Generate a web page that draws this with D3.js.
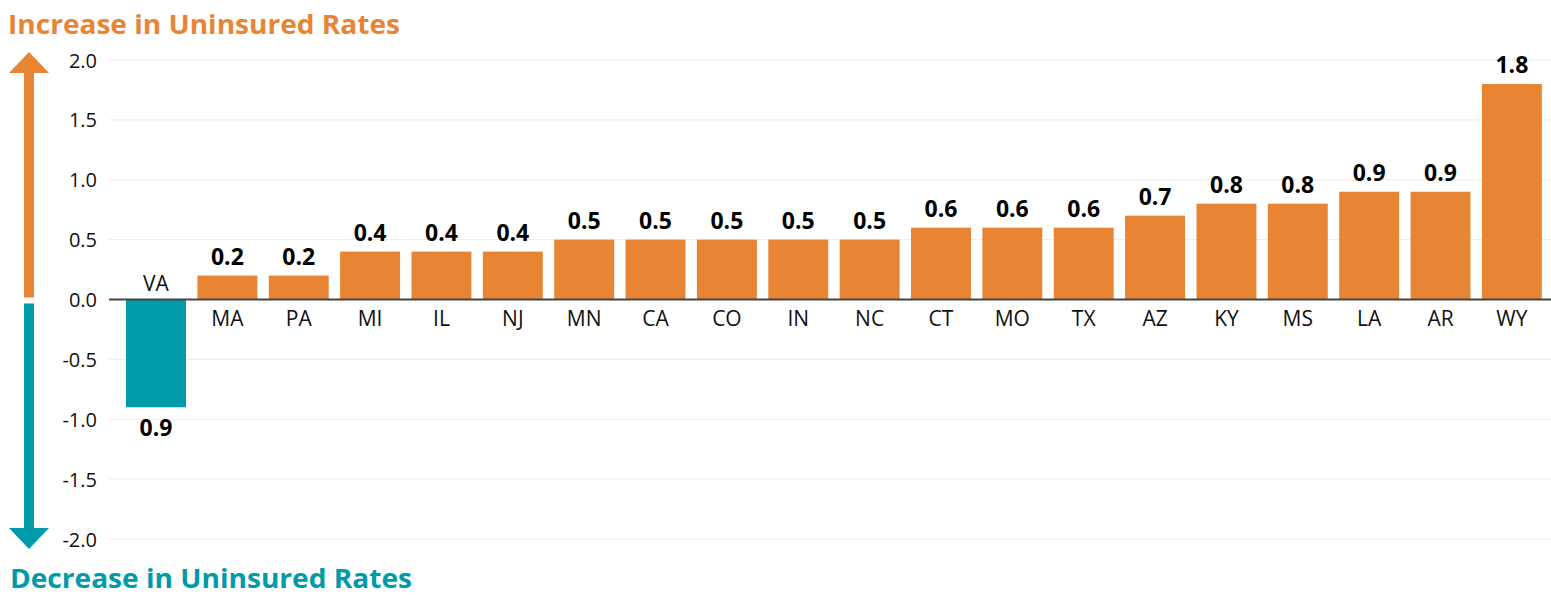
<!DOCTYPE html>
<html>
<head>
<meta charset="utf-8">
<script src="https://cdn.jsdelivr.net/npm/d3@7"></script>
<style>
  html, body { margin: 0; padding: 0; background: #fff; }
  svg { display: block; }
</style>
</head>
<body>
<svg id="chart" width="1551" height="596"></svg>
<script>
const states = ["VA","MA","PA","MI","IL","NJ","MN","CA","CO","IN","NC","CT","MO","TX","AZ","KY","MS","LA","AR","WY"];
const changes = [-0.9,0.2,0.2,0.4,0.4,0.4,0.5,0.5,0.5,0.5,0.5,0.6,0.6,0.6,0.7,0.8,0.8,0.9,0.9,1.8];
const yTicks = [-2.0,-1.5,-1.0,-0.5,0.0,0.5,1.0,1.5,2.0];
const titleUp = "Increase in Uninsured Rates";
const titleDown = "Decrease in Uninsured Rates";

const ORANGE = "#E88535", TEAL = "#009AA9";
const FONT = "'Open Sans', 'Noto Sans', sans-serif";
const svg = d3.select("#chart");
const fmt = d => d3.format(".1f")(d).replace("\u2212", "-");

const y = d3.scaleLinear().domain([-2, 2]).range([539, 60]);
const x = d3.scaleBand().domain(states).range([118.9, 1549]).paddingInner(0.16).paddingOuter(0.1);

// gridlines
svg.append("g").selectAll("line").data(yTicks.filter(d => d !== 0)).join("line")
  .attr("x1", 109).attr("x2", 1551)
  .attr("y1", d => y(d)).attr("y2", d => y(d))
  .attr("stroke", "#ececec").attr("stroke-width", 1);

// y axis labels
const yAxis = d3.axisLeft(y).tickValues(yTicks).tickFormat(fmt).tickSize(0).tickPadding(0);
const ya = svg.append("g").attr("transform", "translate(97,0)").call(yAxis);
ya.select(".domain").remove();
ya.selectAll("text").attr("font-family", FONT).attr("font-size", 20).attr("fill", "#111").attr("dy", "0.35em");

// bars
svg.append("g").selectAll("rect").data(states).join("rect")
  .attr("x", d => x(d))
  .attr("width", x.bandwidth())
  .attr("y", (d, i) => y(Math.max(0, changes[i])))
  .attr("height", (d, i) => Math.abs(y(changes[i]) - y(0)))
  .attr("fill", (d, i) => changes[i] < 0 ? TEAL : ORANGE);

// zero line
svg.append("line").attr("x1", 109).attr("x2", 1551).attr("y1", y(0)).attr("y2", y(0))
  .attr("stroke", "#444").attr("stroke-width", 2);

// category labels
svg.append("g").selectAll("text").data(states).join("text")
  .attr("x", d => x(d) + x.bandwidth() / 2)
  .attr("y", (d, i) => changes[i] < 0 ? y(0) - 9 : y(0) + 26)
  .attr("text-anchor", "middle")
  .attr("font-family", FONT).attr("font-size", 21).attr("fill", "#111")
  .text(d => d);

// value labels
svg.append("g").selectAll("text").data(states).join("text")
  .attr("x", d => x(d) + x.bandwidth() / 2)
  .attr("y", (d, i) => changes[i] < 0 ? y(changes[i]) + 29 : y(changes[i]) - 11)
  .attr("text-anchor", "middle")
  .attr("font-family", FONT).attr("font-size", 23).attr("font-weight", 700).attr("fill", "#000")
  .text((d, i) => fmt(Math.abs(changes[i])));

// arrows
const ax = 29;
svg.append("rect").attr("x", ax - 5).attr("width", 10).attr("y", 70).attr("height", y(0) - 2 - 70).attr("fill", ORANGE);
svg.append("path").attr("d", `M${ax - 20},73 L${ax},52 L${ax + 20},73 Z`).attr("fill", ORANGE);
svg.append("rect").attr("x", ax - 5).attr("width", 10).attr("y", y(0) + 4).attr("height", 530 - (y(0) + 4)).attr("fill", TEAL);
svg.append("path").attr("d", `M${ax - 20},528 L${ax},549 L${ax + 20},528 Z`).attr("fill", TEAL);

// titles
svg.append("text").attr("x", 8).attr("y", 34)
  .attr("font-family", FONT).attr("font-size", 27).attr("font-weight", 700).attr("fill", ORANGE)
  .attr("textLength", 392).attr("lengthAdjust", "spacingAndGlyphs")
  .text(titleUp);
svg.append("text").attr("x", 10).attr("y", 588)
  .attr("font-family", FONT).attr("font-size", 27).attr("font-weight", 700).attr("fill", TEAL)
  .attr("textLength", 402).attr("lengthAdjust", "spacingAndGlyphs")
  .text(titleDown);
</script>
</body>
</html>
